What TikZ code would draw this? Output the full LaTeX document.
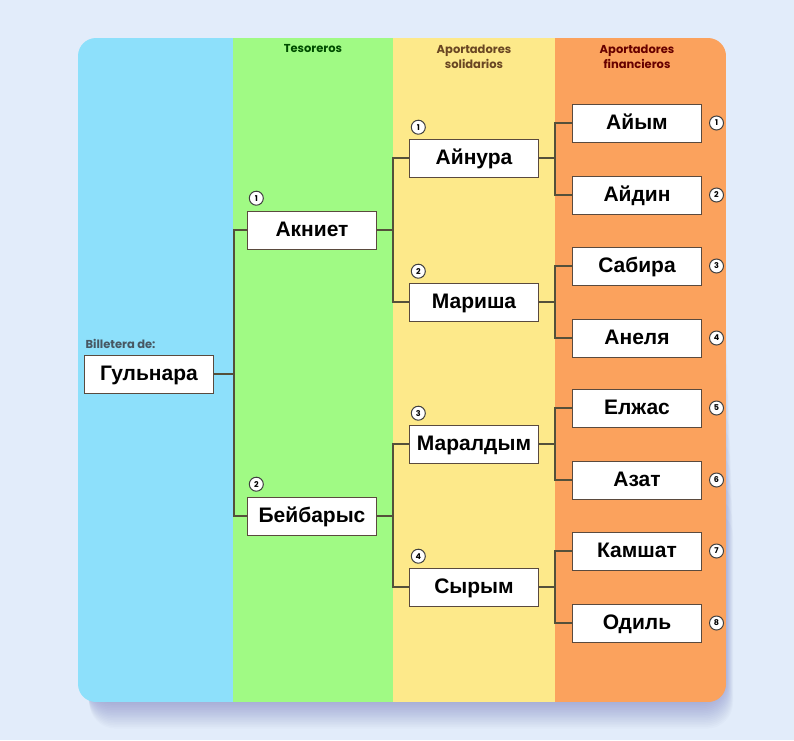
\documentclass[tikz,border=0pt]{standalone}
\usepackage{fontspec}
\setmainfont{Liberation Sans}
\newfontfamily\headfont{Poppins}
\usetikzlibrary{positioning}
\definecolor{pagebg}{HTML}{E2ECFA}
\definecolor{colblue}{HTML}{8DE0FB}
\definecolor{colgreen}{HTML}{A0FA84}
\definecolor{colyellow}{HTML}{FDE98A}
\definecolor{colorange}{HTML}{FBA25D}
\definecolor{linkcol}{HTML}{54503A}
\definecolor{boxline}{HTML}{5A4A3E}
\tikzstyle{box} = [draw=boxline, fill=white, line width=1pt, minimum width=129pt, minimum height=38pt, inner sep=0pt, text depth=0.2em, font=\bfseries\fontsize{21}{21}\selectfont]
\tikzstyle{link} = [draw=linkcol, line width=1.2pt]
\tikzstyle{num} = [circle, draw=black!75, fill=white, line width=1pt, minimum size=14pt, inner sep=0pt, font=\headfont\bfseries\fontsize{8}{8}\selectfont]
\tikzstyle{head} = [font=\headfont\bfseries\fontsize{11.5}{15}\selectfont, align=center]

\begin{document}
\begin{tikzpicture}[x=1pt, y=-1pt]
    \useasboundingbox (0,0) rectangle (794,740);
    \fill[pagebg] (0,0) rectangle (794,740);

    % soft shadow under the panel
    \foreach \i in {1,...,18}
        \fill[blue!45!black, opacity=0.014, rounded corners=26pt]
            (84+\i*0.3, 240+\i*15) rectangle (724+\i*0.5, 698+\i*1.7);

    \begin{scope}
        \clip[rounded corners=18pt] (78,38) rectangle (726,702);
        \fill[colblue] (78,38) rectangle (233,702);
        \fill[colgreen] (233,38) rectangle (393,702);
        \fill[colyellow] (393,38) rectangle (555,702);
        \fill[colorange] (555,38) rectangle (726,702);
    \end{scope}

    \node[head, text=green!30!black] (tes) at (313,49) {Tesoreros};
    \node[head, text=brown!55!black] (sol) at (474,57) {Aportadores\\solidarios};
    \node[head, text=red!40!black] (fin) at (637,57) {Aportadores\\financieros};

    \node[box] (gul) at (149,374) {Гульнара};
    \node[head, anchor=west, text=cyan!30!black, above right=2pt and -2pt of gul.north west] (bil) {Billetera de:};

    \node[box] (akn) at (312,230) {Акниет};
    \node[box] (bey) at (312,516) {Бейбарыс};
    \node[num, above right=7pt and 4pt of akn.north west] (n1) {1};
    \node[num, above right=7pt and 4pt of bey.north west] (n2) {2};

    \node[box] (ain) at (474,158) {Айнура};
    \node[box] (mar) at (474,302) {Мариша};
    \node[box] (mrl) at (474,444) {Маралдым};
    \node[box] (syr) at (474,587) {Сырым};
    \node[num, above right=6pt and 4pt of ain.north west] (s1) {1};
    \node[num, above right=6pt and 4pt of mar.north west] (s2) {2};
    \node[num, above right=6pt and 4pt of mrl.north west] (s3) {3};
    \node[num, above right=6pt and 4pt of syr.north west] (s4) {4};

    \node[box] (aiym) at (637,123) {Айым};
    \node[box] (aidn) at (637,195) {Айдин};
    \node[box] (sabr) at (637,266) {Сабира};
    \node[box] (anel) at (637,338) {Анеля};
    \node[box] (elzh) at (637,408) {Елжас};
    \node[box] (azat) at (637,480) {Азат};
    \node[box] (kamh) at (637,551) {Камшат};
    \node[box] (odil) at (637,623) {Одиль};
    \node[num, right=7pt of aiym] (f1) {1};
    \node[num, right=7pt of aidn] (f2) {2};
    \node[num, right=7pt of sabr] (f3) {3};
    \node[num, right=7pt of anel] (f4) {4};
    \node[num, right=7pt of elzh] (f5) {5};
    \node[num, right=7pt of azat] (f6) {6};
    \node[num, right=7pt of kamh] (f7) {7};
    \node[num, right=7pt of odil] (f8) {8};

    \draw[link] (gul.east) -- ++(20,0) |- (akn.west);
    \draw[link] (gul.east) -- ++(20,0) |- (bey.west);

    \draw[link] (akn.east) -- ++(16,0) |- (ain.west);
    \draw[link] (akn.east) -- ++(16,0) |- (mar.west);
    \draw[link] (bey.east) -- ++(16,0) |- (mrl.west);
    \draw[link] (bey.east) -- ++(16,0) |- (syr.west);

    \draw[link] (ain.east) -- ++(16,0) |- (aiym.west);
    \draw[link] (ain.east) -- ++(16,0) |- (aidn.west);
    \draw[link] (mar.east) -- ++(16,0) |- (sabr.west);
    \draw[link] (mar.east) -- ++(16,0) |- (anel.west);
    \draw[link] (mrl.east) -- ++(16,0) |- (elzh.west);
    \draw[link] (mrl.east) -- ++(16,0) |- (azat.west);
    \draw[link] (syr.east) -- ++(16,0) |- (kamh.west);
    \draw[link] (syr.east) -- ++(16,0) |- (odil.west);
\end{tikzpicture}
\end{document}
